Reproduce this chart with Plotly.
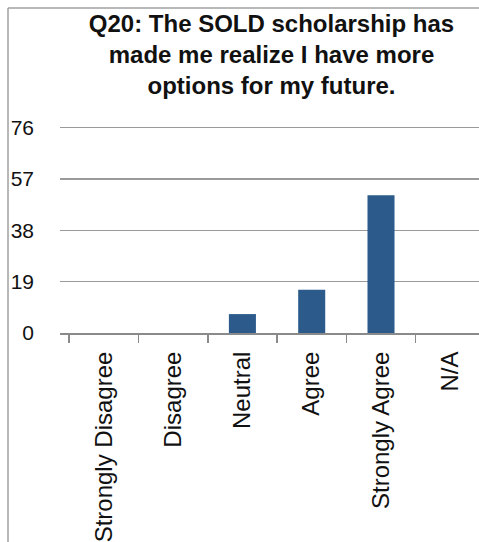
import plotly.graph_objects as go

categories = ["Strongly Disagree", "Disagree", "Neutral", "Agree", "Strongly Agree", "N/A"]
values = [0, 0, 7, 16, 51, 0]
y_ticks = [0, 19, 38, 57, 76]
title_text = "Q20: The SOLD scholarship has<br>made me realize I have more<br>options for my future."

W, H = 479, 542
ML, MR, MT, MB = 60, 0, 120, 209
plot_w = W - ML - MR
plot_h = H - MT - MB

fig = go.Figure()
fig.add_trace(go.Bar(
    x=categories, y=values,
    marker=dict(color="#2b5a8b", line=dict(width=0)),
    width=0.39,
    hoverinfo="skip",
))

def px_x(p):
    return (p - ML) / plot_w

def px_y(p):
    return (H - MB - p) / plot_h

fig.update_layout(
    width=W, height=H,
    autosize=False,
    margin=dict(l=ML, r=MR, t=MT, b=MB, pad=0, autoexpand=False),
    paper_bgcolor="white", plot_bgcolor="white",
    showlegend=False,
    font=dict(family="Liberation Sans, Arial, sans-serif", color="#111111"),
    title=dict(
        text="<b>" + title_text + "</b>",
        font=dict(size=24, color="#111111", family="Liberation Sans, Arial, sans-serif"),
        x=271.5 / W, xanchor="center", xref="container",
        y=1 - 32 / H, yanchor="top", yref="container",
        automargin=False,
    ),
    xaxis=dict(
        type="category",
        range=[-0.632, 5.414],
        automargin=False,
        showgrid=False,
        showline=True, linecolor="#8a8a8a", linewidth=2,
        ticks="outside", ticklen=8, tickwidth=1.5, tickcolor="#8a8a8a",
        tickson="boundaries",
        tickangle=-90,
        tickfont=dict(size=24, color="#111111"),
        ticklabelstandoff=7,
        zeroline=False,
        fixedrange=True,
    ),
    yaxis=dict(
        range=[0, 78.85],
        automargin=False,
        tickvals=y_ticks,
        ticktext=[str(v) for v in y_ticks],
        showgrid=True, gridcolor="#9a9a9a", gridwidth=1.5,
        showline=False, zeroline=False,
        ticks="", tickfont=dict(size=21, color="#111111"),
        ticklabelstandoff=25,
        fixedrange=True,
    ),
    shapes=[
        dict(type="line", xref="paper", yref="paper",
             x0=px_x(8), x1=px_x(8), y0=px_y(H + 5), y1=px_y(8),
             line=dict(color="#a0a0a0", width=1.5)),
        dict(type="line", xref="paper", yref="paper",
             x0=px_x(8), x1=px_x(W + 5), y0=px_y(8), y1=px_y(8),
             line=dict(color="#a0a0a0", width=1.5)),
    ],
)

fig.write_html(
    "out.html",
    config={"displayModeBar": False, "staticPlot": True},
    post_script="document.body.style.margin='0';document.body.style.padding='0';",
)
